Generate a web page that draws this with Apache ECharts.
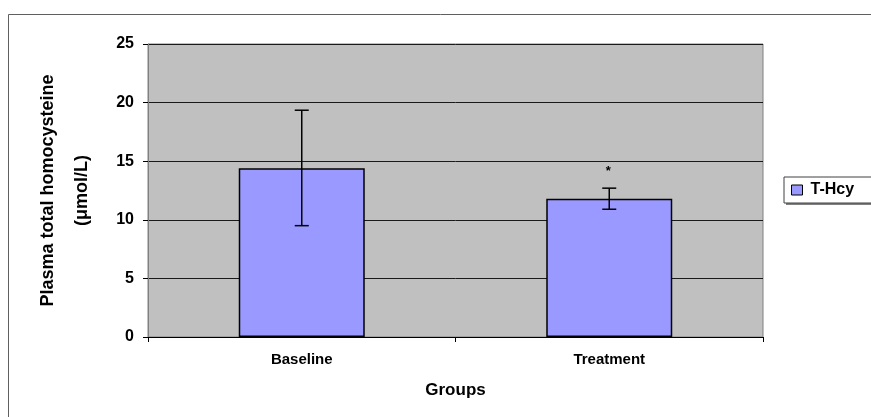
<!DOCTYPE html>
<html>
<head>
<meta charset="utf-8">
<script src="https://cdn.jsdelivr.net/npm/echarts@6/dist/echarts.min.js"></script>
<style>
html,body{margin:0;padding:0;background:#fff;}
#chart{width:871px;height:417px;}
</style>
</head>
<body>
<div id="chart"></div>
<script>
const categories = ['Baseline', 'Treatment'];
const seriesName = 'T-Hcy';
const means = [14.4, 11.8];
const errLow = [9.5, 10.9];
const errHigh = [19.35, 12.7];
const marks = ['', '*'];
const yTicks = [0, 5, 10, 15, 20, 25];

const FONT = '"Liberation Sans", Arial, sans-serif';
const chart = echarts.init(document.getElementById('chart'), null, {renderer: 'canvas'});

const errData = categories.map((c, i) => [i, errLow[i], errHigh[i], marks[i]]);

chart.setOption({
  animation: false,
  backgroundColor: '#fff',
  textStyle: {fontFamily: FONT},
  graphic: [{
    type: 'rect', z: -10,
    shape: {x: 8.5, y: 14.5, width: 900, height: 500},
    style: {fill: 'none', stroke: '#606060', lineWidth: 1}
  }, {
    type: 'rect', z: -11,
    shape: {x: 786, y: 179, width: 100, height: 26},
    style: {fill: '#808080'}
  }],
  grid: {
    left: 148, top: 44, width: 615, height: 293,
    show: true, backgroundColor: '#C0C0C0', borderColor: '#808080', borderWidth: 1
  },
  legend: {
    data: [{name: seriesName, icon: 'rect'}],
    left: 784, top: 177,
    itemWidth: 11, itemHeight: 10, itemGap: 4,
    padding: [5, 20, 5, 7],
    backgroundColor: '#fff', borderColor: '#404040', borderWidth: 1,
    textStyle: {fontFamily: FONT, fontWeight: 'bold', fontSize: 16, color: '#000', padding: [0, 0, 0, 3]},
    itemStyle: {borderColor: '#000', borderWidth: 1}
  },
  xAxis: {
    type: 'category', data: categories,
    axisLine: {lineStyle: {color: '#000', width: 1}},
    axisTick: {show: true, length: 5, lineStyle: {color: '#000'}},
    axisLabel: {fontFamily: FONT, fontWeight: 'bold', fontSize: 15, color: '#000', margin: 15},
    name: 'Groups', nameLocation: 'middle', nameGap: 45,
    nameTextStyle: {fontFamily: FONT, fontWeight: 'bold', fontSize: 17, color: '#000'}
  },
  yAxis: {
    type: 'value', min: yTicks[0], max: yTicks[yTicks.length - 1], interval: yTicks[1] - yTicks[0],
    axisLine: {show: true, lineStyle: {color: '#808080', width: 1}},
    axisTick: {show: true, length: 5, lineStyle: {color: '#000'}},
    axisLabel: {fontFamily: FONT, fontWeight: 'bold', fontSize: 16, color: '#000', margin: 14},
    splitLine: {show: true, lineStyle: {color: '#1a1a1a', width: 1}},
    name: 'Plasma total homocysteine\n(μmol/L)', nameLocation: 'middle', nameRotate: 90, nameGap: 49,
    nameTextStyle: {fontFamily: FONT, fontWeight: 'bold', fontSize: 18, color: '#000', lineHeight: 34}
  },
  series: [{
    name: seriesName, type: 'bar', data: means, barWidth: 126,
    itemStyle: {color: '#9999FF', borderColor: '#000', borderWidth: 1.5}
  }, {
    name: 'err', type: 'custom', data: errData, z: 5,
    renderItem: function (params, api) {
      const x = api.value(0);
      const lo = api.coord([x, api.value(1)]);
      const hi = api.coord([x, api.value(2)]);
      const cap = 7;
      const st = {stroke: '#000', lineWidth: 1.5};
      const children = [
        {type: 'line', shape: {x1: hi[0], y1: hi[1], x2: lo[0], y2: lo[1]}, style: st},
        {type: 'line', shape: {x1: hi[0] - cap, y1: hi[1], x2: hi[0] + cap, y2: hi[1]}, style: st},
        {type: 'line', shape: {x1: lo[0] - cap, y1: lo[1], x2: lo[0] + cap, y2: lo[1]}, style: st}
      ];
      const m = errData[params.dataIndex][3];
      if (m) {
        children.push({type: 'text', style: {text: m, x: hi[0] - 1, y: hi[1] - 17, align: 'center', verticalAlign: 'middle',
          font: 'bold 13px ' + FONT, fill: '#000'}});
      }
      return {type: 'group', children: children};
    }
  }]
});
</script>
</body>
</html>
